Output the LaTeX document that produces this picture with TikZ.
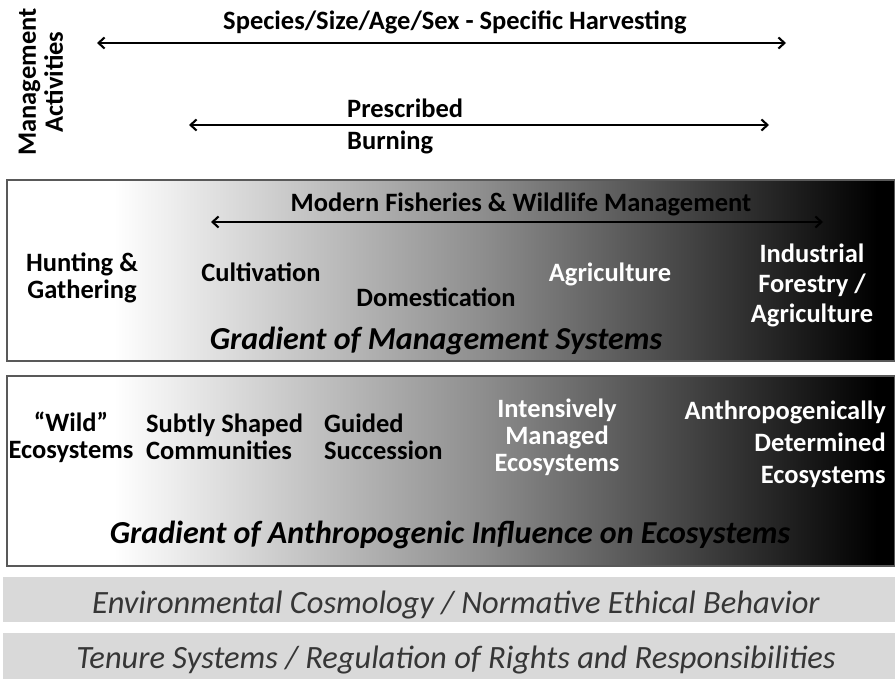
\documentclass[tikz,border=0pt]{standalone}
\usepackage{fontspec}
\setmainfont{Carlito}
\usetikzlibrary{arrows.meta,positioning}
\definecolor{bargray}{HTML}{D9D9D9}
\definecolor{bartext}{HTML}{363636}
\definecolor{framegray}{HTML}{595959}
\pgfdeclarehorizontalshading{grad}{100bp}{color(0bp)=(white); color(31bp)=(white); color(52bp)=(black!45); color(74bp)=(black); color(100bp)=(black)}
\tikzset{
  lbl/.style={font=\fontsize{26.5}{27}\selectfont\bfseries, align=center, inner sep=0pt},
  wlbl/.style={lbl, text=white},
  gtitle/.style={font=\fontsize{32}{34}\selectfont\bfseries\itshape, inner sep=0pt},
  bartitle/.style={font=\fontsize{32.5}{34}\selectfont\itshape, text=bartext, inner sep=0pt},
  gradbox/.style={draw=framegray, line width=1.2pt, shading=grad},
  bar/.style={fill=bargray, draw=none},
  span/.style={{Straight Barb[length=6pt,width=11pt]}-{Straight Barb[length=6pt,width=11pt]}, line width=2.1pt}
}
\begin{document}
\begin{tikzpicture}[x=1pt,y=-1pt]
\useasboundingbox (0,0) rectangle (895,679);
% management activities
\node[lbl, rotate=90] (mact) at (41,82) {Management\\Activities};
\node[lbl] (harv) at (455,22) {Species/Size/Age/Sex - Specific Harvesting};
\coordinate (harvL) at (97,43);
\coordinate (harvR) at (786,43);
\draw[span] (harvL) -- (harvR);
\node[lbl, anchor=west] (presc) at (347,108) {Prescribed};
\node[lbl, anchor=west] (burn) at (347,142) {Burning};
\coordinate (burnL) at (189,125);
\coordinate (burnR) at (769,125);
\draw[span] (burnL) -- (burnR);
% management systems
\path[gradbox] (7,180) rectangle (895,361);
\node[lbl] (fish) at (521,204) {Modern Fisheries \& Wildlife Management};
\coordinate (fishL) at (211,222);
\coordinate (fishR) at (823,222);
\draw[span] (fishL) -- (fishR);
\node[lbl] (hunt) at (82,278) {Hunting \&\\Gathering};
\node[lbl] (cult) at (261,272) {Cultivation};
\node[lbl] (dome) at (436,297) {Domestication};
\node[wlbl] (agri) at (610,274) {Agriculture};
\node[wlbl, font=\fontsize{26.5}{30}\selectfont\bfseries] (indu) at (812,285) {Industrial\\Forestry /\\Agriculture};
\node[gtitle] (gms) at (436,341) {Gradient of Management Systems};
% ecosystems
\path[gradbox] (7,376) rectangle (895,566);
\node[lbl] (wild) at (71,437) {“Wild”\\Ecosystems};
\node[lbl, align=left, anchor=west] (subt) at (146,437) {Subtly Shaped\\Communities};
\node[lbl, align=left, anchor=west] (guid) at (324,437) {Guided\\Succession};
\node[wlbl] (inte) at (557,437) {Intensively\\Managed\\Ecosystems};
\node[wlbl, align=right, anchor=east, font=\fontsize{26.5}{32}\selectfont\bfseries] (anth) at (886,444) {Anthropogenically\\Determined\\Ecosystems};
\node[gtitle] (gai) at (450,535) {Gradient of Anthropogenic Influence on Ecosystems};
% bars
\path[bar] (3,577) rectangle (895,622);
\node[bartitle] (cosm) at (456,605) {Environmental Cosmology / Normative Ethical Behavior};
\path[bar] (3,633) rectangle (895,679);
\node[bartitle] (tenu) at (456,660) {Tenure Systems / Regulation of Rights and Responsibilities};
\end{tikzpicture}
\end{document}
